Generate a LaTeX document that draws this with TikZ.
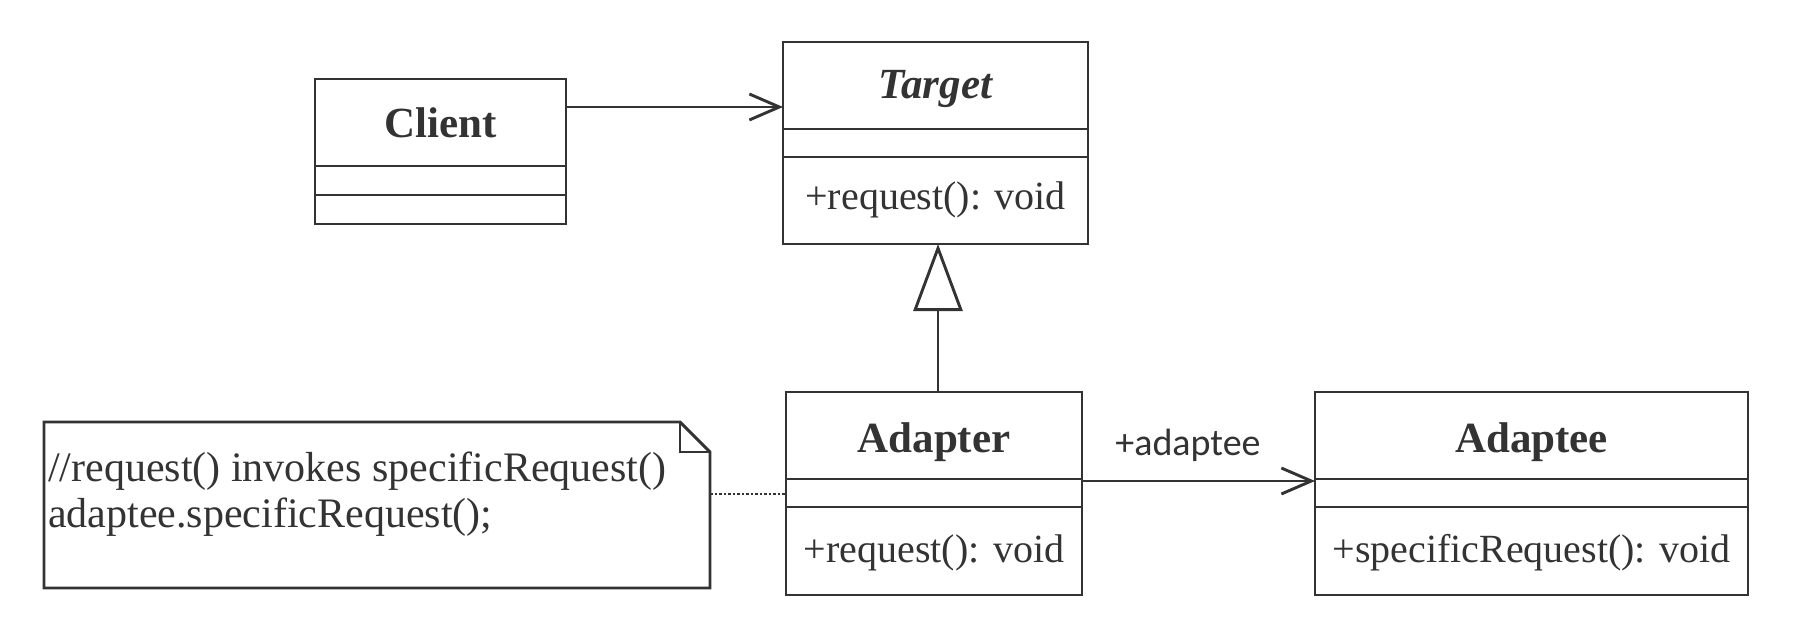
\documentclass[tikz,border=0pt]{standalone}
\usepackage{fontspec}
\setmainfont{Liberation Serif}
\newfontfamily\labelfont{Carlito}
\usetikzlibrary{arrows.meta}
\definecolor{ink}{HTML}{333333}
\tikzset{
  box/.style={draw=ink, line width=2.9pt, inner sep=0pt, outer sep=0pt},
  ttl/.style={font=\fontsize{43}{50}\selectfont\bfseries, text=ink, inner sep=0pt, anchor=base},
  meth/.style={font=\fontsize{40}{47}\selectfont, text=ink, inner sep=0pt, anchor=base},
  notetext/.style={font=\fontsize{42}{48}\selectfont, text=ink, inner sep=0pt, anchor=base west},
  lbl/.style={font=\labelfont\fontsize{38}{44}\selectfont, text=ink, inner sep=0pt, anchor=base},
  assoc/.style={draw=ink, line width=2.9pt, -{Straight Barb[length=30pt,width=26pt]}},
  gen/.style={draw=ink, line width=2.9pt, -{Triangle[open,length=67pt,width=49pt]}},
  anchorline/.style={draw=ink, line width=2pt, dash pattern=on 2.5pt off 2pt},
  divider/.style={draw=ink, line width=2.9pt},
}
\begin{document}
\begin{tikzpicture}[x=1pt,y=-1pt]
\useasboundingbox[fill=white] (0,0) rectangle (1800,631);

% classes
\node[box, minimum width=251pt, minimum height=145pt] (client) at (440.5,151.5) {};
\node[box, minimum width=305pt, minimum height=202pt] (target) at (935.5,143) {};
\node[box, minimum width=296pt, minimum height=203pt] (adapter) at (934,493.5) {};
\node[box, minimum width=433pt, minimum height=203pt] (adaptee) at (1531.5,493.5) {};

% dividers
\draw[divider] (client.west |- 0,166) -- (client.east |- 0,166);
\draw[divider] (client.west |- 0,195) -- (client.east |- 0,195);
\draw[divider] (target.west |- 0,129) -- (target.east |- 0,129);
\draw[divider] (target.west |- 0,157) -- (target.east |- 0,157);
\draw[divider] (adapter.west |- 0,479) -- (adapter.east |- 0,479);
\draw[divider] (adapter.west |- 0,507) -- (adapter.east |- 0,507);
\draw[divider] (adaptee.west |- 0,479) -- (adaptee.east |- 0,479);
\draw[divider] (adaptee.west |- 0,507) -- (adaptee.east |- 0,507);

% texts
\node[ttl] (clientname) at (440.5,138) {Client};
\node[ttl] (targetname) at (935.5,99) {\itshape Target};
\node[meth] (targetop) at (935.5,210) {+request(): void};
\node[ttl] (adaptername) at (934,452) {Adapter};
\node[meth] (adapterop) at (934,562) {+request(): void};
\node[ttl] (adapteename) at (1531.5,452) {Adaptee};
\node[meth] (adapteeop) at (1531.5,562) {+specificRequest(): void};

% note
\node[inner sep=0pt, outer sep=0pt, minimum width=666pt, minimum height=166pt] (note) at (377,505) {};
\draw[divider, line join=miter] (note.north west) -- ([xshift=-30pt]note.north east) -- ([yshift=-30pt]note.north east) -- (note.south east) -- (note.south west) -- cycle;
\draw[divider] ([xshift=-30pt]note.north east) |- ([yshift=-30pt]note.north east);
\node[notetext] (note1) at (48,481) {//request() invokes specificRequest()};
\node[notetext] (note2) at (48,527) {adaptee.specificRequest();};

% connectors
\coordinate (ya) at (0,107);
\coordinate (yb) at (0,481);
\coordinate (yc) at (0,494);
\coordinate (gx) at (938,0);
\draw[assoc] (client.east |- ya) -- (target.west |- ya);
\draw[gen] (adapter.north -| gx) -- (target.south -| gx);
\draw[assoc] (adapter.east |- yb) -- (adaptee.west |- yb);
\node[lbl] (assoclabel) at (1188,455) {+adaptee};
\draw[anchorline] (note.east |- yc) -- (adapter.west |- yc);
\end{tikzpicture}
\end{document}
